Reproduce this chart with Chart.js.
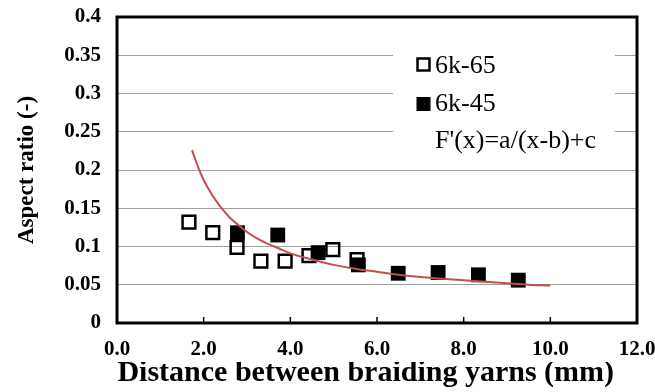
<!DOCTYPE html>
<html>
<head>
<meta charset="utf-8">
<script src="https://cdn.jsdelivr.net/npm/chart.js@4"></script>
<style>
    body { margin: 0; background: #fff; }
    #wrap { width: 655px; height: 392px; }
</style>
</head>
<body>
<div id="wrap"><canvas id="chartAspect" width="655" height="392"></canvas></div>
<script>
// valores
const x65 = [1.66, 2.21, 2.77, 3.32, 3.88, 4.43, 4.98, 5.54];
const y65 = [0.132, 0.118, 0.099, 0.081, 0.081, 0.088, 0.096, 0.083];

const x45 = [2.78, 3.71, 4.64, 5.57, 6.49, 7.41, 8.34, 9.26];
const y45 = [0.118, 0.115, 0.092, 0.076, 0.065, 0.066, 0.063, 0.056];

// curva de ajuste F'(x)=a/(x-b)+c
const fitX = [1.73, 1.85, 2.0, 2.2, 2.4, 2.6, 2.8, 3.0, 3.25, 3.5, 3.75, 4.0, 4.5, 5.0, 5.5, 6.0, 6.5, 7.0, 7.5, 8.0, 8.5, 9.0, 9.5, 10.0];
const fitY = [0.226, 0.207, 0.187, 0.167, 0.151, 0.138, 0.128, 0.119, 0.110, 0.103, 0.097, 0.091, 0.083, 0.076, 0.071, 0.067, 0.063, 0.060, 0.058, 0.056, 0.054, 0.052, 0.050, 0.049];

const xTicks = [0, 2, 4, 6, 8, 10, 12];
const legendLabels = ['6k-65', '6k-45', "F'(x)=a/(x-b)+c"];

const SERIF = '"Liberation Serif", "Times New Roman", serif';

function toPoints(xs, ys) {
    return xs.map((x, i) => ({ x: x, y: ys[i] }));
}

// moldura, marcas internas do eixo x e legenda
const framePlugin = {
    id: 'frame',
    afterDatasetsDraw(chart) {
        const { ctx, chartArea: a, scales } = chart;
        ctx.save();
        // marcas para dentro no eixo x
        ctx.strokeStyle = '#000';
        ctx.lineWidth = 1.5;
        xTicks.forEach(v => {
            if (v === 0 || v === 12) return;
            const px = scales.x.getPixelForValue(v);
            ctx.beginPath();
            ctx.moveTo(px, a.bottom);
            ctx.lineTo(px, a.bottom - 6);
            ctx.stroke();
        });
        ctx.lineWidth = 3;
        ctx.strokeRect(a.left, a.top, a.right - a.left, a.bottom - a.top);

        // legenda
        ctx.fillStyle = '#fff';
        ctx.fillRect(393, 42, 222, 116);
        const ds = chart.data.datasets;
        ctx.font = '26px ' + SERIF;
        ctx.textBaseline = 'middle';
        ctx.textAlign = 'left';
        // 6k-65
        ctx.strokeStyle = '#000';
        ctx.lineWidth = 2.5;
        ctx.strokeRect(417.5, 58.5, 12, 12);
        ctx.fillStyle = '#000';
        ctx.fillText(ds[2].label, 435, 66);
        // 6k-45
        ctx.fillRect(416.5, 97, 14, 14);
        ctx.fillText(ds[1].label, 435, 104);
        // curva
        ctx.fillText(ds[0].label, 435, 141);
        ctx.restore();
    },
    afterDraw(chart) {
        // faixa branca que corta a base dos rótulos do eixo x
        const { ctx } = chart;
        ctx.save();
        ctx.fillStyle = '#fff';
        ctx.fillRect(60, 357, 595, 5);
        ctx.restore();
    }
};

const bgPlugin = {
    id: 'bg',
    beforeDraw(chart) {
        const { ctx } = chart;
        ctx.save();
        ctx.fillStyle = '#fff';
        ctx.fillRect(0, 0, chart.width, chart.height);
        ctx.restore();
    }
};

new Chart(document.getElementById('chartAspect'), {
    type: 'scatter',
    data: {
        datasets: [
            {
                label: legendLabels[2],
                type: 'line',
                data: toPoints(fitX, fitY),
                borderColor: '#c0504d',
                borderWidth: 2,
                pointRadius: 0,
                fill: false,
                tension: 0.4,
                cubicInterpolationMode: 'monotone'
            },
            {
                label: legendLabels[1],
                data: toPoints(x45, y45),
                pointStyle: 'rect',
                pointRadius: 10.5,
                backgroundColor: '#000',
                borderColor: '#000',
                borderWidth: 0
            },
            {
                label: legendLabels[0],
                data: toPoints(x65, y65),
                pointStyle: 'rect',
                pointRadius: 9,
                backgroundColor: 'rgba(255,255,255,0)',
                borderColor: '#000',
                borderWidth: 2.5
            }
        ]
    },
    options: {
        responsive: false,
        animation: false,
        layout: { padding: { left: 0, top: 17, right: 18, bottom: 0 } },
        plugins: {
            legend: { display: false },
            tooltip: { enabled: false }
        },
        scales: {
            x: {
                type: 'linear',
                min: 0,
                max: 12,
                afterFit: s => {
                    s.height = 69;
                    s.paddingLeft = 0;
                    s.paddingRight = 0;
                },
                afterBuildTicks: s => { s.ticks = xTicks.map(v => ({ value: v })); },
                border: { display: false },
                grid: { display: false, drawTicks: false },
                ticks: {
                    padding: 14,
                    color: '#000',
                    font: { family: SERIF, size: 21, weight: 'bold' },
                    callback: v => Number(v).toFixed(1)
                },
                title: {
                    display: true,
                    // espaços no fim para deslocar o título um pouco à esquerda, como no original
                    text: 'Distance between braiding yarns (mm)\u00a0\u00a0\u00a0',
                    color: '#000',
                    font: { family: SERIF, size: 30, weight: 'bold' },
                    padding: { top: 0, bottom: 1 }
                }
            },
            y: {
                min: 0,
                max: 0.4,
                afterFit: s => {
                    s.width = 117;
                    s.paddingTop = 0;
                    s.paddingBottom = 0;
                },
                border: { display: false },
                grid: { color: '#a0a0a0', lineWidth: 1, drawTicks: false },
                ticks: {
                    stepSize: 0.05,
                    padding: 16,
                    color: '#000',
                    font: { family: SERIF, size: 21, weight: 'bold' },
                    callback: v => String(Number(Number(v).toFixed(2)))
                },
                title: {
                    display: true,
                    text: 'Aspect ratio (-)',
                    color: '#000',
                    font: { family: SERIF, size: 23, weight: 'bold' },
                    padding: { top: 13, bottom: 0 }
                }
            }
        }
    },
    plugins: [bgPlugin, framePlugin]
});
</script>
</body>
</html>
